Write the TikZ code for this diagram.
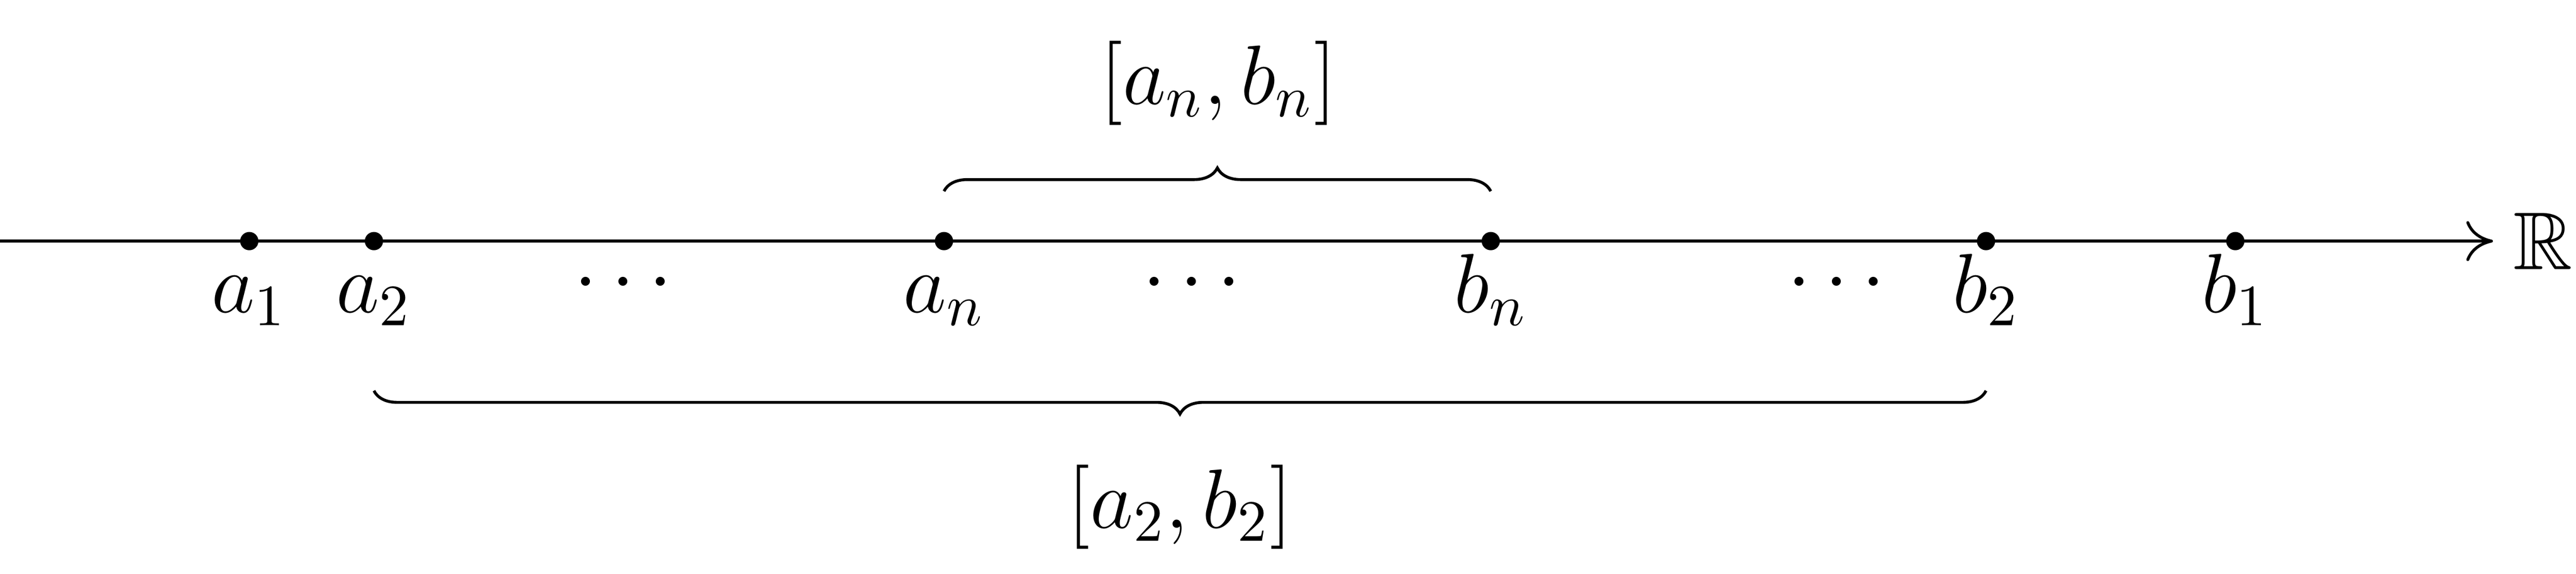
\documentclass[tikz,border=0pt]{standalone}
\usepackage{amssymb}
\usetikzlibrary{decorations.pathreplacing,arrows.meta}
\begin{document}
\begin{tikzpicture}[x=1cm,y=1cm,font=\fontsize{14}{16}\selectfont,
  pt/.style={circle,fill,inner sep=0pt,minimum size=1.1mm},
  lab/.style={anchor=base},
  br/.style={decorate,decoration={brace,amplitude=0.14cm,raise=0pt},line width=0.5pt}]
\useasboundingbox (0,0) rectangle (15.5,3.45);
\coordinate (L) at (0,2.0);
\coordinate (R) at (15.0,2.0);
\draw[-{To[length=1.6mm,width=2.4mm]},line width=0.5pt] (L) -- (R);
\node[anchor=west] (RR) at (15.0,2.0) {$\mathbb{R}$};
\foreach \n/\x/\t in {a1/1.50/a_1,a2/2.25/a_2,an/5.68/a_n,bn/8.97/b_n,b2/11.95/b_2,b1/13.45/b_1}{
  \node[pt] (\n) at (\x,2.0) {};
  \node[lab] (l\n) at (\x,1.57) {$\t$};
}
\node[lab] (d1) at (3.75,1.63) {$\cdots$};
\node[lab] (d2) at (7.17,1.63) {$\cdots$};
\node[lab] (d3) at (11.05,1.63) {$\cdots$};
\coordinate (u1) at (5.68,2.3);
\coordinate (u2) at (8.97,2.3);
\draw[br] (u1) -- (u2);
\node (ul) at (7.33,2.95) {$[a_n,b_n]$};
\coordinate (w1) at (2.25,1.1);
\coordinate (w2) at (11.95,1.1);
\draw[br] (w2) -- (w1);
\node (wl) at (7.10,0.4) {$[a_2,b_2]$};
\end{tikzpicture}
\end{document}
